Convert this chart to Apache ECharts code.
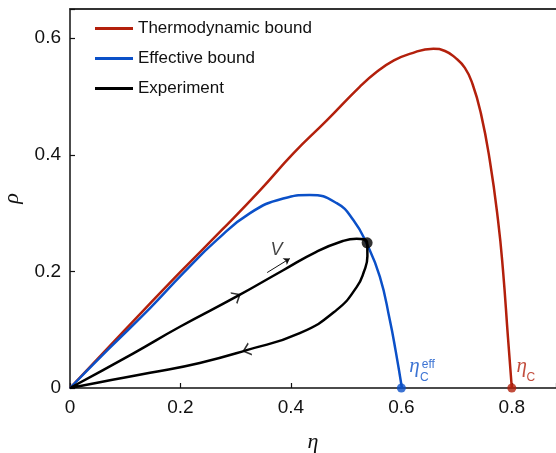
<!DOCTYPE html>
<html>
<head>
<meta charset="utf-8">
<script src="https://cdn.jsdelivr.net/npm/echarts@6/dist/echarts.min.js"></script>
<style>
  html, body { margin: 0; padding: 0; background: #fff; }
  #chart { width: 556px; height: 453px; }
</style>
</head>
<body>
<div id="chart"></div>
<script>
// thermodynamic bound (red)
var thermoEta = [0, 0.1, 0.2, 0.275, 0.344, 0.404, 0.465, 0.525, 0.555, 0.585, 0.615, 0.658, 0.679, 0.697, 0.715, 0.729, 0.744, 0.760, 0.775, 0.784, 0.793, 0.8];
var thermoRho = [0, 0.1, 0.199, 0.271, 0.339, 0.402, 0.459, 0.517, 0.542, 0.561, 0.573, 0.582, 0.578, 0.567, 0.549, 0.521, 0.471, 0.391, 0.288, 0.202, 0.087, 0];
// effective bound (blue)
var effEta = [0, 0.07, 0.145, 0.205, 0.266, 0.326, 0.386, 0.434, 0.483, 0.513, 0.537, 0.561, 0.579, 0.590, 0.601];
var effRho = [0, 0.067, 0.137, 0.197, 0.254, 0.300, 0.325, 0.331, 0.317, 0.288, 0.248, 0.191, 0.117, 0.062, 0];
// experiment loop: upper branch out, lower branch back
var expEta = [0, 0.114, 0.199, 0.302, 0.386, 0.447, 0.494, 0.519, 0.538, 0.5385, 0.532, 0.519, 0.483, 0.416, 0.32, 0.235, 0.145, 0.054, 0];
var expRho = [0, 0.059, 0.105, 0.157, 0.202, 0.234, 0.252, 0.256, 0.249, 0.226, 0.199, 0.173, 0.134, 0.094, 0.065, 0.043, 0.026, 0.010, 0];
// markers
var workPoint = [0.538, 0.249];
var carnotEff = 0.6;
var carnot = 0.8;
var arrowEta = [0.302, 0.32];
var arrowRho = [0.157, 0.065];
var arrowAngle = [30, 198];
var vArrowStart = [0.357, 0.198];
var vArrowEnd = [0.398, 0.222];
var vLabelPos = [0.374, 0.237];
var xTicks = [0, 0.2, 0.4, 0.6, 0.8];
var yTicks = [0, 0.2, 0.4, 0.6];

var RED = '#b3200c', BLUE = '#0b50c8', BLACK = '#000';

function zip(a, b) {
  return a.map(function (v, i) { return [v, b[i]]; });
}
function tickText(list) {
  return function (v) {
    var r = Math.round(v * 10) / 10;
    return (list.indexOf(r) >= 0 && Math.abs(v - r) < 1e-6) ? String(r) : '';
  };
}

var chart = echarts.init(document.getElementById('chart'));
chart.setOption({
  animation: false,
  grid: { left: 70, right: 0, top: 9, bottom: 65, containLabel: false, outerBoundsMode: 'none' },
  legend: {
    data: ['Thermodynamic bound', 'Effective bound', 'Experiment'],
    orient: 'vertical',
    left: 95,
    top: 20,
    padding: 0,
    icon: 'rect',
    itemWidth: 38,
    itemHeight: 3,
    itemGap: 13,
    textStyle: { fontSize: 17, color: '#111', fontFamily: 'Liberation Sans' }
  },
  xAxis: [{
    type: 'value',
    min: 0, max: 0.88, interval: 0.2,
    name: 'η',
    nameLocation: 'middle',
    nameGap: 43,
    nameTextStyle: { fontFamily: 'Liberation Serif', fontStyle: 'italic', fontSize: 22, color: '#111' },
    axisLine: { lineStyle: { color: '#111', width: 1.5 } },
    axisTick: { inside: true, length: 5, lineStyle: { color: '#111', width: 1.2 } },
    axisLabel: { margin: 10, fontSize: 19, color: '#111', fontFamily: 'Liberation Sans', formatter: tickText(xTicks) },
    splitLine: { show: false }
  }, {
    type: 'value', position: 'top',
    min: 0, max: 0.88,
    axisLine: { onZero: false, lineStyle: { color: '#333', width: 2 } },
    axisTick: { show: false }, axisLabel: { show: false }, splitLine: { show: false }
  }],
  yAxis: {
    type: 'value',
    min: 0, max: 0.65, interval: 0.2,
    name: 'ρ',
    nameLocation: 'middle',
    nameGap: 38,
    nameTextStyle: { fontFamily: 'Liberation Serif', fontStyle: 'italic', fontSize: 22, color: '#111' },
    axisLine: { lineStyle: { color: '#111', width: 1.5 } },
    axisTick: { inside: true, length: 5, lineStyle: { color: '#111', width: 1.2 } },
    axisLabel: { margin: 9, fontSize: 19, color: '#111', fontFamily: 'Liberation Sans', formatter: tickText(yTicks) },
    splitLine: { show: false }
  },
  series: [
    {
      name: 'Thermodynamic bound', type: 'line', data: zip(thermoEta, thermoRho),
      showSymbol: false, smooth: 0.5, itemStyle: { color: RED },
      lineStyle: { color: RED, width: 2.5 }, z: 2
    },
    {
      name: 'Effective bound', type: 'line', data: zip(effEta, effRho),
      showSymbol: false, smooth: 0.5, itemStyle: { color: BLUE },
      lineStyle: { color: BLUE, width: 2.5 }, z: 3
    },
    {
      name: 'Experiment', type: 'line', data: zip(expEta, expRho),
      showSymbol: false, smooth: 0.5, itemStyle: { color: BLACK },
      lineStyle: { color: BLACK, width: 2.5 }, z: 4
    },
    {
      // arrowheads on the loop
      type: 'scatter', z: 5, silent: true,
      symbol: 'path://M0,0L8,6L0,12',
      symbolSize: [7, 12],
      itemStyle: { color: 'rgba(0,0,0,0)', borderColor: BLACK, borderWidth: 1.4 },
      data: arrowEta.map(function (e, i) {
        return { value: [e, arrowRho[i]], symbolRotate: arrowAngle[i] };
      })
    },
    {
      // end points on the axis
      type: 'scatter', z: 6, silent: true, symbolSize: 9,
      data: [
        { value: [carnotEff, 0], itemStyle: { color: BLUE } },
        { value: [carnot, 0], itemStyle: { color: RED } }
      ]
    },
    {
      type: 'scatter', z: 7, silent: true, symbolSize: 11,
      itemStyle: { color: BLACK },
      data: [workPoint]
    },
    {
      // text annotations
      type: 'scatter', z: 8, silent: true, symbolSize: 0,
      label: { show: true, position: 'inside', align: 'center', verticalAlign: 'middle' },
      data: [
        { value: [carnotEff, 0], label: { formatter: 'η', offset: [13, -22], fontFamily: 'Liberation Serif', fontStyle: 'italic', fontSize: 21, color: BLUE } },
        { value: [carnotEff, 0], label: { formatter: 'C', offset: [23, -10], fontFamily: 'Liberation Sans', fontSize: 12, color: BLUE } },
        { value: [carnotEff, 0], label: { formatter: 'eff', offset: [27, -23], fontFamily: 'Liberation Sans', fontSize: 12, color: BLUE } },
        { value: [carnot, 0], label: { formatter: 'η', offset: [10, -22], fontFamily: 'Liberation Serif', fontStyle: 'italic', fontSize: 21, color: RED } },
        { value: [carnot, 0], label: { formatter: 'C', offset: [19, -10], fontFamily: 'Liberation Sans', fontSize: 12, color: RED } },
        { value: vLabelPos, label: { formatter: 'V', fontFamily: 'Liberation Sans', fontStyle: 'italic', fontSize: 18, color: '#111' } }
      ],
      markLine: {
        silent: true,
        symbol: ['none', 'arrow'],
        symbolSize: 6,
        label: { show: false },
        lineStyle: { color: '#111', width: 1, type: 'solid' },
        data: [[{ coord: vArrowStart }, { coord: vArrowEnd }]]
      }
    }
  ]
});
window.addEventListener('resize', function () { chart.resize(); });
</script>
</body>
</html>
